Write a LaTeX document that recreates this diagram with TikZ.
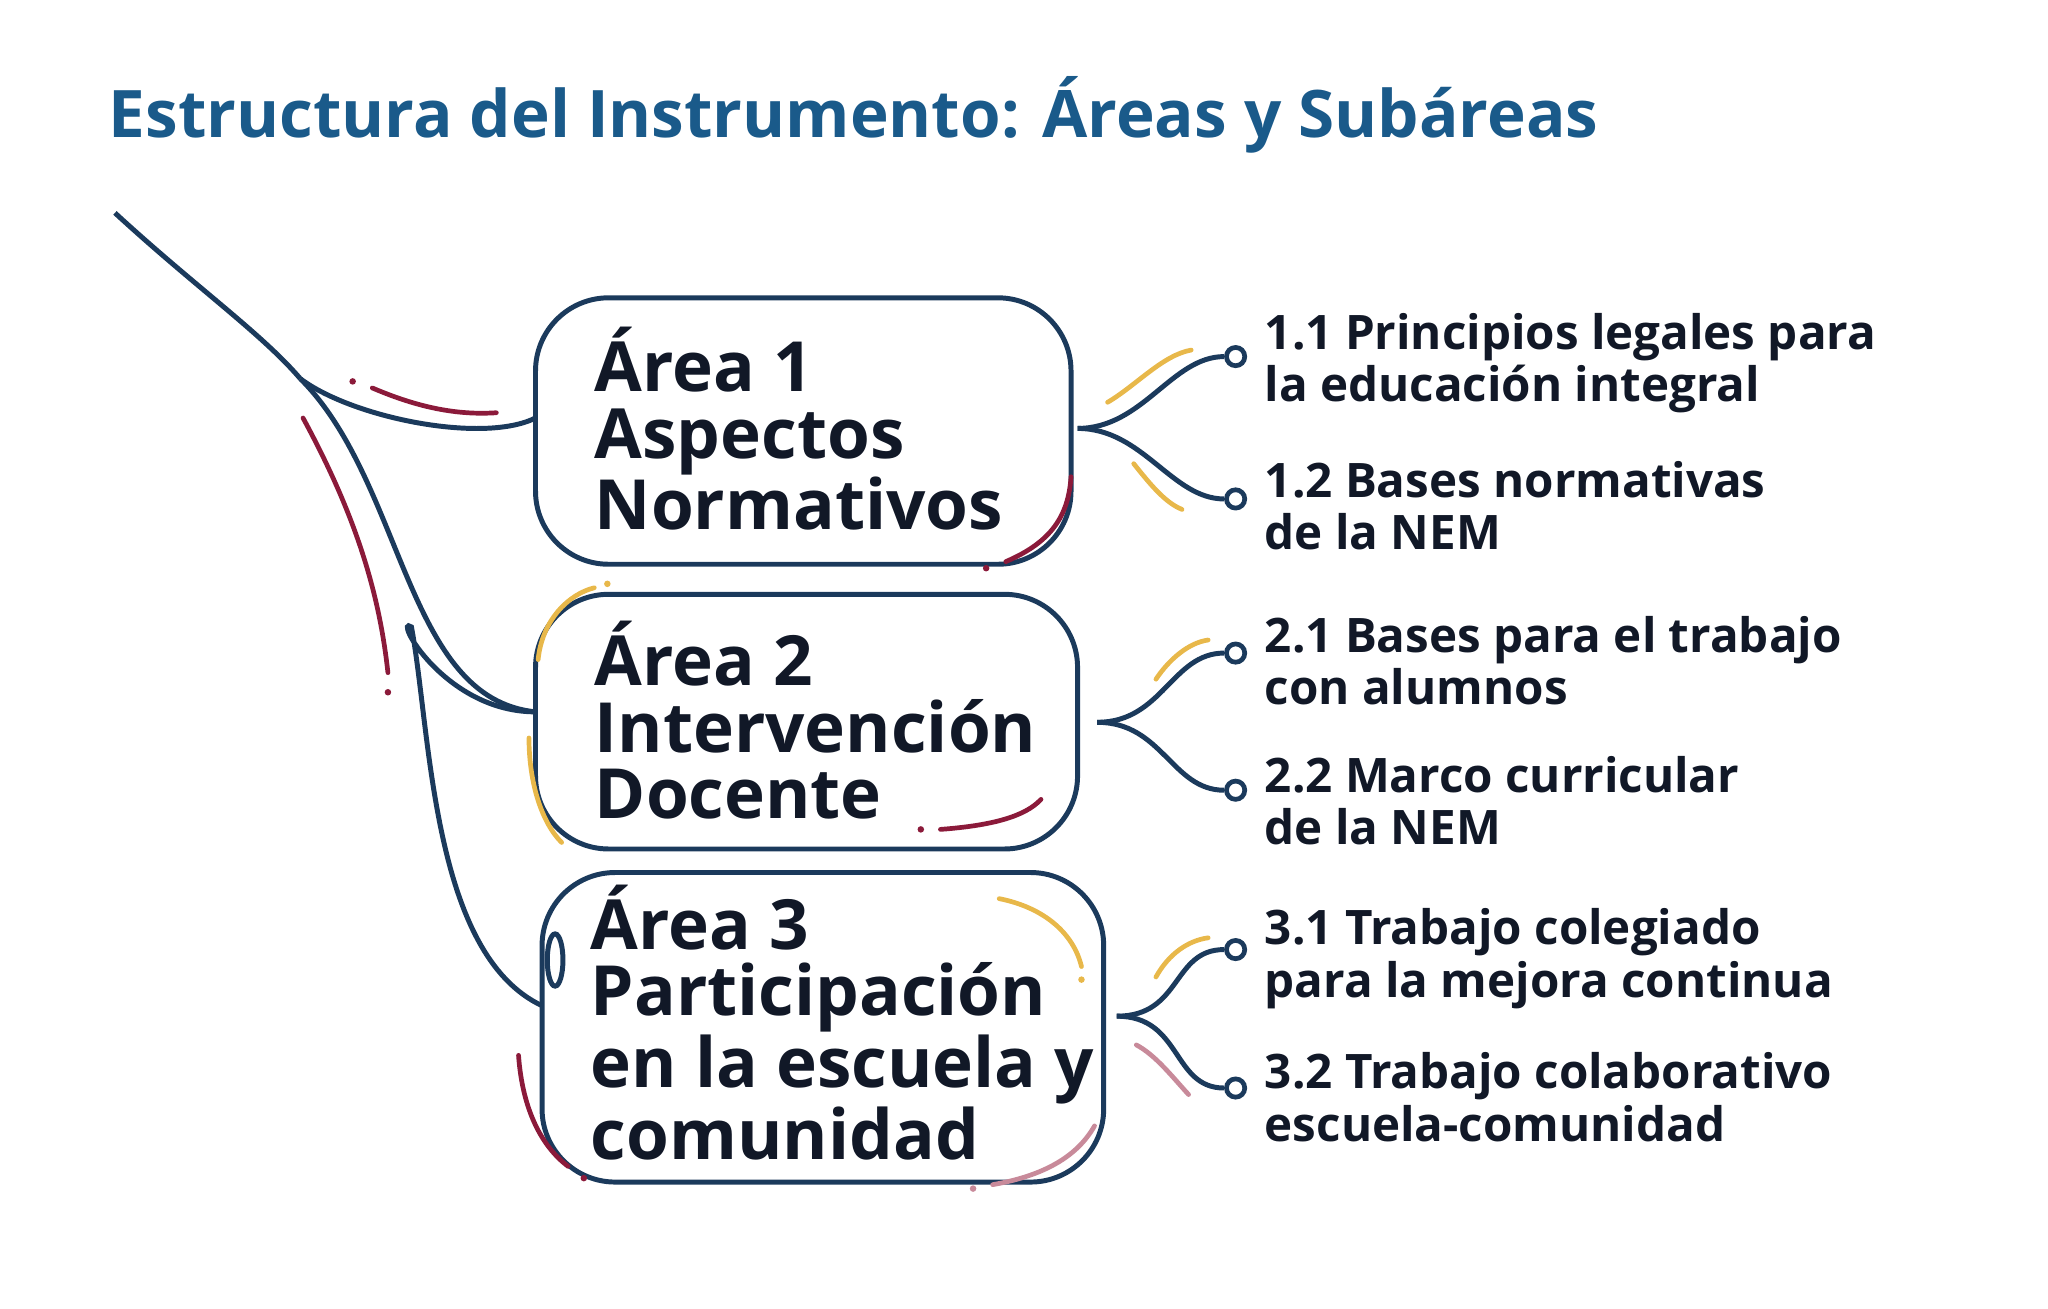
\documentclass[tikz,border=0pt]{standalone}
\usepackage{fontspec}
\setmainfont{Open Sans}
\definecolor{navy}{HTML}{1B3A5C}
\definecolor{titleblue}{HTML}{1A5A8A}
\definecolor{crim}{HTML}{8B1A3A}
\definecolor{gold}{HTML}{E8B84A}
\definecolor{pinkish}{HTML}{C88A9A}
\definecolor{ink}{HTML}{111827}
\begin{document}
\begin{tikzpicture}[x=0.5pt,y=-0.5pt,
  areabox/.style={draw=navy,line width=1.9pt,rounded corners=28pt,inner sep=0pt},
  areatext/.style={text=ink,font=\fontsize{26.5}{25.5}\selectfont\bfseries,align=left,anchor=north west,inner sep=0pt},
  subtext/.style={text=ink,font=\fontsize{18.2}{20}\selectfont\bfseries,align=left,anchor=west,inner sep=0pt},
  con/.style={draw=navy,line width=1.9pt},
  leaf/.style={circle,draw=navy,line width=1.8pt,fill=white,minimum size=7pt,inner sep=0pt},
  acc/.style={line width=1.8pt,line cap=round}]
\useasboundingbox (0,0) rectangle (1568,1002);
\node[anchor=base west,inner sep=0pt,text=titleblue,font=\fontsize{25.1}{28}\selectfont\bfseries] (title) at (83,105) {Estructura del Instrumento: Áreas y Subáreas};
% boxes
\draw[areabox] (410,228) rectangle (820,432);
\draw[areabox] (410,455) rectangle (825,650);
\draw[areabox] (415,668) rectangle (845,905);
\coordinate (b1w) at (410,320);
\coordinate (b2w) at (410,545);
\coordinate (b3w) at (415,770);
\coordinate (b1e) at (825,328);
\coordinate (b2e) at (840,553);
\coordinate (b3e) at (855,778);
\node[areatext] (a1) at (455,250) {Área 1\\Aspectos\\Normativos};
\node[areatext] (a2) at (455,475) {Área 2\\Intervención\\Docente};
\node[areatext] (a3) at (452,677) {Área 3\\Participación\\en la escuela y\\comunidad};
% leaves
\node[leaf] (l11) at (946,273) {};
\node[leaf] (l12) at (946,382) {};
\node[leaf] (l21) at (946,500) {};
\node[leaf] (l22) at (946,605) {};
\node[leaf] (l31) at (946,727) {};
\node[leaf] (l32) at (946,833) {};
\node[subtext] (s11) at (968,278) {1.1 Principios legales para\\la educación integral};
\node[subtext] (s12) at (968,387) {1.2 Bases normativas\\de la NEM};
\node[subtext] (s21) at (968,506) {2.1 Bases para el trabajo\\con alumnos};
\node[subtext] (s22) at (968,613) {2.2 Marco curricular\\de la NEM};
\node[subtext] (s31) at (968,734) {3.1 Trabajo colegiado\\para la mejora continua};
\node[subtext] (s32) at (968,840) {3.2 Trabajo colaborativo\\escuela-comunidad};
\foreach \e/\a/\b in {b1e/l11/l12,b2e/l21/l22,b3e/l31/l32}{
  \draw[con] (\e) .. controls +(50,0) and +(-40,0) .. (\a.west);
  \draw[con] (\e) .. controls +(50,0) and +(-40,0) .. (\b.west);
}
% left tree
\coordinate (root) at (88,163);
\coordinate (fork) at (230,290);
\draw[con] (root) .. controls (150,220) and (200,255) .. (fork);
\draw[con] (fork) .. controls (270,320) and (370,340) .. (b1w);
\draw[con] (fork) .. controls (310,370) and (310,535) .. (b2w);
\draw[con] (b2w) .. controls (340,545) and (300,470) .. (315,480) .. controls (330,560) and (330,730) .. (b3w);
\draw[con] (425,735) ellipse (6 and 20);
% accents
\draw[acc,crim] (285,297) .. controls (320,312) and (350,318) .. (380,316);
\fill[crim] (270,292) circle (2.5);
\draw[acc,crim] (232,320) .. controls (270,390) and (290,450) .. (297,515);
\fill[crim] (297,530) circle (2.5);
\draw[acc,crim] (770,430) .. controls (805,415) and (818,395) .. (820,365);
\fill[crim] (755,435) circle (2.5);
\draw[acc,gold] (412,505) .. controls (415,475) and (435,455) .. (455,450);
\fill[gold] (465,447) circle (2.5);
\draw[acc,gold] (405,565) .. controls (405,600) and (415,630) .. (430,645);
\draw[acc,crim] (720,635) .. controls (760,632) and (785,625) .. (797,612);
\fill[crim] (705,635) circle (2.5);
\draw[acc,gold] (765,688) .. controls (800,695) and (822,715) .. (828,740);
\fill[gold] (828,750) circle (2.5);
\draw[acc,crim] (397,808) .. controls (400,850) and (415,878) .. (435,893);
\fill[crim] (447,902) circle (2.5);
\draw[acc,pinkish] (760,907) .. controls (800,900) and (825,885) .. (838,862);
\fill[pinkish] (745,910) circle (2.5);
\draw[acc,gold] (848,308) .. controls (870,295) and (890,272) .. (912,268);
\draw[acc,gold] (868,355) .. controls (880,370) and (892,385) .. (905,390);
\draw[acc,gold] (885,520) .. controls (895,505) and (910,492) .. (925,490);
\draw[acc,gold] (885,748) .. controls (895,730) and (910,720) .. (925,718);
\draw[acc,pinkish] (870,800) .. controls (885,808) and (898,825) .. (910,838);
\end{tikzpicture}
\end{document}
